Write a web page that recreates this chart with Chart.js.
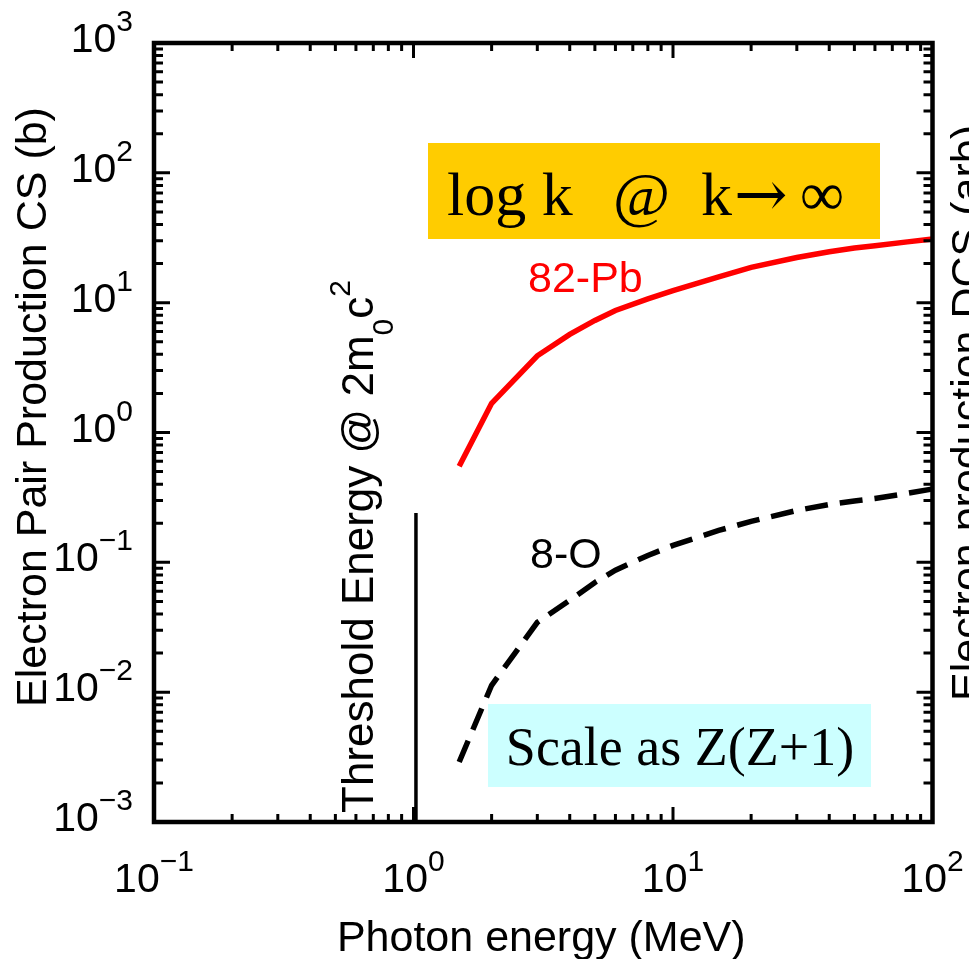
<!DOCTYPE html>
<html>
<head>
<meta charset="utf-8">
<title>Electron pair production cross section</title>
<script src="https://cdn.jsdelivr.net/npm/chart.js@4.4.1/dist/chart.umd.min.js"></script>
<style>
  html, body { margin: 0; padding: 0; background: #fff; overflow: hidden; }
  #wrap { width: 969px; height: 959px; }
</style>
</head>
<body>
<div id="wrap"><canvas id="pairChart" width="969" height="959"></canvas></div>
<script>
// photon energies (MeV) of the tabulated points
var energies = [1.5, 2, 3, 4, 5, 6, 8, 10, 15, 20, 30, 40, 50, 60, 80, 100];
// cross sections (b)
var csLead   = [0.55, 1.68, 3.9, 5.7, 7.3, 8.7, 10.7, 12.4, 15.8, 18.7, 22.3, 24.7, 26.4, 27.4, 29.4, 30.9];
var csOxygen = [0.0029, 0.0113, 0.0345, 0.051, 0.070, 0.087, 0.113, 0.135, 0.176, 0.207, 0.251, 0.279, 0.297, 0.31, 0.34, 0.367];
// threshold marker at 2 m0 c^2
var thresholdX = [1.022, 1.022];
var thresholdY = [0.001, 0.24];
// decade exponents for the tick labels
var xDecades = [-1, 0, 1, 2];
var yDecades = [-3, -2, -1, 0, 1, 2, 3];

var SANS = '"Liberation Sans", Arial, sans-serif';
var SERIF = '"Liberation Serif", "Times New Roman", serif';

function toPoints(xs, ys) {
    return xs.map(function(x, i) { return { x: x, y: ys[i] }; });
}

// "10" with a raised exponent
function drawPower(ctx, exp, x, y, align) {
    var base = '10';
    var sup = exp < 0 ? '\u2212' + (-exp) : String(exp);
    ctx.font = '41px ' + SANS;
    var wb = ctx.measureText(base).width;
    ctx.font = '30px ' + SANS;
    var ws = ctx.measureText(sup).width;
    var left = align === 'center' ? x - (wb + ws) / 2 : x - wb - ws;
    ctx.textAlign = 'left';
    ctx.textBaseline = 'alphabetic';
    ctx.font = '41px ' + SANS;
    ctx.fillText(base, left, y);
    ctx.font = '30px ' + SANS;
    ctx.fillText(sup, left + wb, y - 21);
}

function rotatedText(ctx, text, x, y, font, align) {
    ctx.save();
    ctx.translate(x, y);
    ctx.rotate(-Math.PI / 2);
    ctx.font = font;
    ctx.textAlign = align;
    ctx.textBaseline = 'alphabetic';
    ctx.fillText(text, 0, 0);
    ctx.restore();
}

var decorPlugin = {
    id: 'decor',
    beforeDatasetsDraw: function(chart) {
        var ctx = chart.ctx;
        ctx.save();
        ctx.fillStyle = '#FFCC00';
        ctx.fillRect(428, 143, 452, 96);
        ctx.fillStyle = '#CCFFFF';
        ctx.fillRect(488, 704, 383, 83);
        ctx.restore();
    },
    afterDraw: function(chart) {
        var ctx = chart.ctx;
        var area = chart.chartArea;
        var xs = chart.scales.x;
        var ys = chart.scales.y;
        var i, m, p, len;

        ctx.save();
        ctx.strokeStyle = '#000';
        ctx.fillStyle = '#000';

        // inward ticks on all four sides
        ctx.lineWidth = 3;
        ctx.beginPath();
        for (i = 0; i < xDecades.length; i++) {
            for (m = 1; m <= 9; m++) {
                if (i === xDecades.length - 1 && m > 1) break;
                p = xs.getPixelForValue(m * Math.pow(10, xDecades[i]));
                len = m === 1 ? 15 : 8;
                ctx.moveTo(p, area.bottom); ctx.lineTo(p, area.bottom - len);
                ctx.moveTo(p, area.top); ctx.lineTo(p, area.top + len);
            }
        }
        for (i = 0; i < yDecades.length; i++) {
            for (m = 1; m <= 9; m++) {
                if (i === yDecades.length - 1 && m > 1) break;
                p = ys.getPixelForValue(m * Math.pow(10, yDecades[i]));
                len = m === 1 ? 16 : 9;
                ctx.moveTo(area.left, p); ctx.lineTo(area.left + len, p);
                ctx.moveTo(area.right, p); ctx.lineTo(area.right - len, p);
            }
        }
        ctx.stroke();

        // frame
        ctx.lineWidth = 4.5;
        ctx.strokeRect(area.left, area.top, area.right - area.left, area.bottom - area.top);

        // tick labels
        xDecades.forEach(function(e) {
            drawPower(ctx, e, xs.getPixelForValue(Math.pow(10, e)), 892, 'center');
        });
        yDecades.forEach(function(e) {
            drawPower(ctx, e, 133, ys.getPixelForValue(Math.pow(10, e)) + 9, 'right');
        });

        // axis titles
        ctx.font = '43px ' + SANS;
        ctx.textAlign = 'center';
        ctx.fillText('Photon energy (MeV)', (area.left + area.right) / 2 - 2, 951);
        rotatedText(ctx, 'Electron Pair Production CS (b)', 46, 407, '43px ' + SANS, 'center');
        rotatedText(ctx, 'Electron production DCS (arb)', 981, 413, '43px ' + SANS, 'center');

        // threshold label with sub/superscripts
        ctx.save();
        ctx.translate(373, 813);
        ctx.rotate(-Math.PI / 2);
        ctx.textAlign = 'left';
        var cx = 0;
        ctx.font = '44px ' + SANS;
        ctx.fillText('Threshold Energy @ 2m', cx, 0);
        cx += ctx.measureText('Threshold Energy @ 2m').width;
        ctx.font = '30px ' + SANS;
        ctx.fillText('0', cx, 20);
        cx += ctx.measureText('0').width;
        ctx.font = '44px ' + SANS;
        ctx.fillText('c', cx, 0);
        cx += ctx.measureText('c').width;
        ctx.font = '30px ' + SANS;
        ctx.fillText('2', cx, -23);
        ctx.restore();

        // curve labels
        ctx.textAlign = 'left';
        ctx.font = '43px ' + SANS;
        ctx.fillStyle = '#FF0000';
        ctx.fillText('82-Pb', 528, 292);
        ctx.fillStyle = '#000';
        ctx.fillText('8-O', 530, 568);

        // yellow note: log k @ k -> infinity
        ctx.textAlign = 'left';
        ctx.font = '62px ' + SERIF;
        ctx.fillText('log k', 447, 215);
        ctx.fillText('@', 613, 215);
        ctx.fillText('k', 701, 215);
        ctx.fillText('\u221E', 800, 215);
        ctx.font = '64px "DejaVu Serif", serif';
        ctx.fillText('\u2192', 734, 216);

        // cyan note
        ctx.textAlign = 'center';
        ctx.font = '54px ' + SERIF;
        ctx.fillText('Scale as Z(Z+1)', 680, 765);

        ctx.restore();
    }
};

var ctx = document.getElementById('pairChart');
var pairChart = new Chart(ctx, {
    type: 'line',
    data: {
        datasets: [{
            label: '82-Pb',
            data: toPoints(energies, csLead),
            borderColor: '#FF0000',
            borderWidth: 5.5,
            pointRadius: 0,
            tension: 0,
            fill: false
        }, {
            label: '8-O',
            data: toPoints(energies, csOxygen),
            borderColor: '#000000',
            borderWidth: 5.5,
            borderDash: [23, 12],
            pointRadius: 0,
            tension: 0,
            fill: false
        }, {
            label: 'Threshold',
            data: toPoints(thresholdX, thresholdY),
            borderColor: '#000000',
            borderWidth: 3.5,
            pointRadius: 0,
            fill: false
        }]
    },
    options: {
        responsive: false,
        animation: false,
        devicePixelRatio: 1,
        layout: {
            padding: { left: 154, top: 43, right: 36.5, bottom: 137 }
        },
        plugins: {
            legend: { display: false },
            tooltip: { enabled: false }
        },
        scales: {
            x: { type: 'logarithmic', min: 0.1, max: 100, display: false },
            y: { type: 'logarithmic', min: 0.001, max: 1000, display: false }
        }
    },
    plugins: [decorPlugin]
});
</script>
</body>
</html>
